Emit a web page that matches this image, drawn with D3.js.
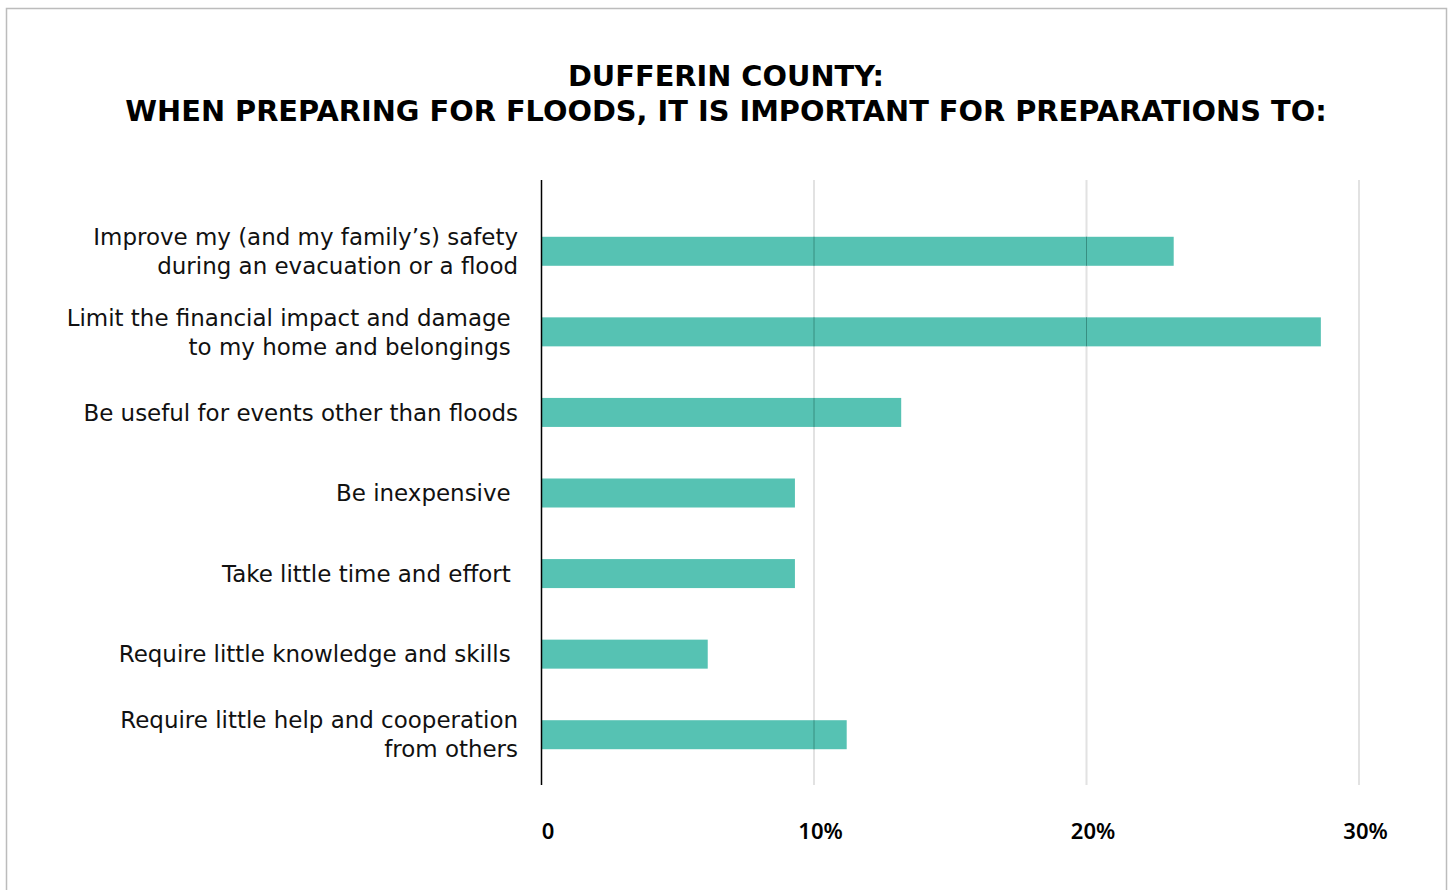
<!DOCTYPE html>
<html>
<head>
<meta charset="utf-8">
<script src="https://cdn.jsdelivr.net/npm/d3@7"></script>
<style>
  html, body { margin: 0; padding: 0; background: #fff; }
  svg { display: block; }
  .cat-label { white-space: pre; }
</style>
</head>
<body>
<svg id="chart" width="1452" height="890"></svg>
<script>
// Survey responses: share of respondents choosing each preparation priority
const titleLines = [
  "DUFFERIN COUNTY:",
  "WHEN PREPARING FOR FLOODS, IT IS IMPORTANT FOR PREPARATIONS TO:"
];
const categories = [
  ["Improve my (and my family\u2019s) safety", "during an evacuation or a flood"],
  ["Limit the financial impact and damage ", "to my home and belongings "],
  ["Be useful for events other than floods"],
  ["Be inexpensive "],
  ["Take little time and effort "],
  ["Require little knowledge and skills "],
  ["Require little help and cooperation", "from others"]
];
const values = [23.2, 28.6, 13.2, 9.3, 9.3, 6.1, 11.2];
const tickValues = [0, 10, 20, 30];
const tickLabels = ["0", "10%", "20%", "30%"];

const svg = d3.select("#chart");
const barColor = "#56c2b3";
const sans = "'DejaVu Sans', sans-serif";

// scale a text node's font size so it spans the given width
function fitWidth(sel, target) {
  const w = sel.node().getComputedTextLength();
  const fs = parseFloat(sel.attr("font-size"));
  return fs * target / w;
}

// outer frame
svg.append("rect")
  .attr("x", 6.5).attr("y", 8.5)
  .attr("width", 1440).attr("height", 900)
  .attr("fill", "none")
  .attr("stroke", "#bcbcbc")
  .attr("stroke-width", 1.5);

// title
const titleG = svg.append("g")
  .attr("font-family", sans)
  .attr("font-weight", 700)
  .attr("fill", "#000")
  .attr("text-anchor", "middle");
const titleNodes = titleLines.map((t, i) =>
  titleG.append("text")
    .attr("x", 726).attr("y", 86 + i * 35)
    .attr("font-size", 28)
    .text(t));
const titleSize = fitWidth(titleNodes[1], 1202);
titleNodes.forEach(n => n.attr("font-size", titleSize));

// scales
const x = d3.scaleLinear().domain([0, 30]).range([541.5, 1359]);
const y = d3.scaleBand()
  .domain(d3.range(categories.length))
  .range([211, 775])
  .paddingInner(0.64)
  .paddingOuter(0.32);

const plotTop = 180, plotBottom = 785;

// light gridlines behind the bars
svg.append("g")
  .selectAll("line")
  .data(tickValues.slice(1))
  .join("line")
  .attr("x1", d => x(d)).attr("x2", d => x(d))
  .attr("y1", plotTop).attr("y2", plotBottom)
  .attr("stroke", "#e2e2e2")
  .attr("stroke-width", 2);

// bars
svg.append("g")
  .selectAll("rect")
  .data(values)
  .join("rect")
  .attr("x", x(0))
  .attr("y", (d, i) => y(i))
  .attr("width", d => x(d) - x(0))
  .attr("height", y.bandwidth())
  .attr("fill", barColor);

// gridlines show through the bars as a darker hairline
const clip = svg.append("clipPath").attr("id", "barClip");
clip.selectAll("rect")
  .data(values)
  .join("rect")
  .attr("x", x(0))
  .attr("y", (d, i) => y(i))
  .attr("width", d => x(d) - x(0))
  .attr("height", y.bandwidth());
svg.append("g")
  .attr("clip-path", "url(#barClip)")
  .selectAll("line")
  .data(tickValues.slice(1))
  .join("line")
  .attr("x1", d => x(d)).attr("x2", d => x(d))
  .attr("y1", plotTop).attr("y2", plotBottom)
  .attr("stroke", "#2f7d72")
  .attr("stroke-opacity", 0.75)
  .attr("stroke-width", 1);

// category axis line
svg.append("line")
  .attr("x1", x(0)).attr("x2", x(0))
  .attr("y1", plotTop).attr("y2", plotBottom)
  .attr("stroke", "#000")
  .attr("stroke-width", 1.5);

// category labels
const labelG = svg.append("g")
  .attr("font-family", sans)
  .attr("fill", "#111")
  .attr("text-anchor", "end");
const probe = labelG.append("text").attr("font-size", 20).text(categories[0][0]);
const labelSize = fitWidth(probe, 425);
probe.remove();
labelG.attr("font-size", labelSize);
categories.forEach((lines, i) => {
  const cy = y(i) + y.bandwidth() / 2;
  const lh = 29;
  const t = labelG.append("text").attr("class", "cat-label");
  lines.forEach((ln, j) => {
    t.append("tspan")
      .attr("x", 518)
      .attr("y", cy + (j - (lines.length - 1) / 2) * lh)
      .attr("dy", "0.36em")
      .text(ln);
  });
});

// value axis
const xAxis = d3.axisBottom(x)
  .tickValues(tickValues)
  .tickFormat((d, i) => tickLabels[i])
  .tickSize(0)
  .tickPadding(0);
const axG = svg.append("g")
  .attr("transform", `translate(0,${plotBottom})`)
  .call(xAxis);
axG.select(".domain").remove();
axG.selectAll("text")
  .attr("font-family", "'Noto Sans', sans-serif")
  .attr("font-weight", 600)
  .attr("font-size", 22)
  .attr("fill", "#000")
  .attr("dx", 6)
  .attr("y", 54)
  .attr("dy", 0);
</script>
</body>
</html>
